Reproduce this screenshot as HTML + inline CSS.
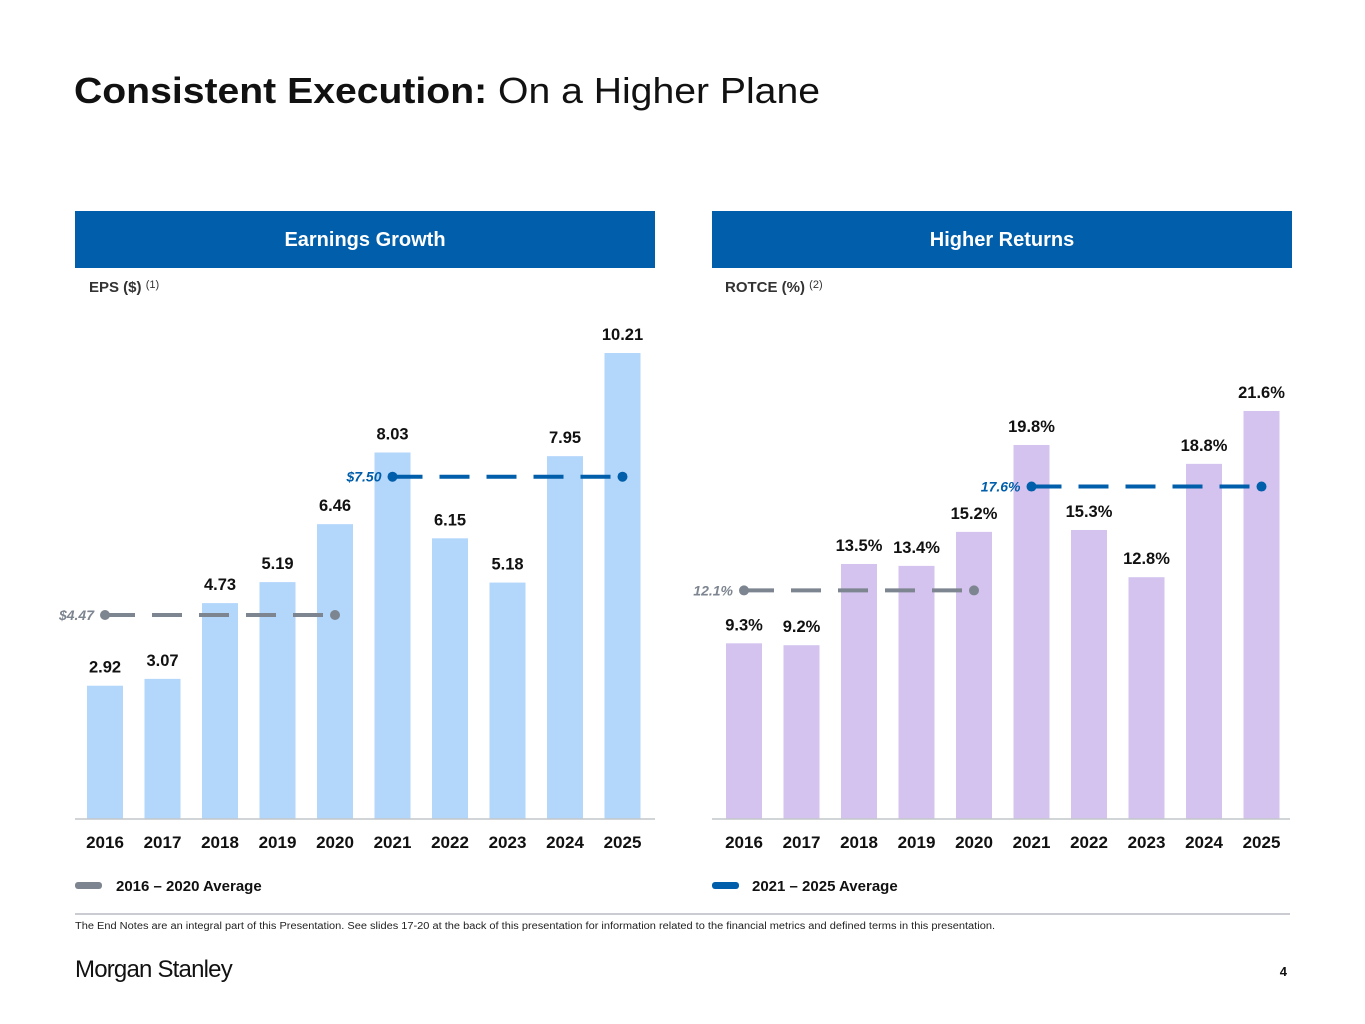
<!DOCTYPE html>
<html><head><meta charset="utf-8"><style>
body{margin:0;background:#fff;font-family:"Liberation Sans",sans-serif;}
#wrap{position:relative;width:1365px;height:1024px;overflow:hidden;}
</style></head><body>
<div id="wrap">
<svg id="svg" width="1365" height="1024" xmlns="http://www.w3.org/2000/svg" font-family="Liberation Sans, sans-serif">
<text x="74" y="103" font-size="36" fill="#111" textLength="746" lengthAdjust="spacingAndGlyphs"><tspan font-weight="bold">Consistent Execution:</tspan> On a Higher Plane</text>
<rect x="75" y="211" width="580" height="57" fill="#005eaa"/>
<text x="365" y="246" font-size="20" font-weight="bold" fill="#fff" text-anchor="middle">Earnings Growth</text>
<rect x="712" y="211" width="580" height="57" fill="#005eaa"/>
<text x="1002" y="246" font-size="20" font-weight="bold" fill="#fff" text-anchor="middle">Higher Returns</text>
<text x="89" y="292" font-size="15" font-weight="bold" fill="#333">EPS ($) <tspan font-size="11" font-weight="normal" dy="-4">(1)</tspan></text>
<text x="725" y="292" font-size="15" font-weight="bold" fill="#333">ROTCE (%) <tspan font-size="11" font-weight="normal" dy="-4">(2)</tspan></text>
<g id="left"></g>
<g id="right"></g>
<rect x="75" y="882" width="27" height="7" rx="3" fill="#7d8590"/>
<text x="116" y="891" font-size="15" font-weight="bold" fill="#111">2016 – 2020 Average</text>
<rect x="712" y="882" width="27" height="7" rx="3" fill="#005eaa"/>
<text x="752" y="891" font-size="15" font-weight="bold" fill="#111">2021 – 2025 Average</text>
<line x1="75" y1="914" x2="1290" y2="914" stroke="#b8bcc4" stroke-width="1.5"/>
<text x="75" y="929" font-size="10" fill="#222" textLength="920" lengthAdjust="spacingAndGlyphs">The End Notes are an integral part of this Presentation. See slides 17-20 at the back of this presentation for information related to the financial metrics and defined terms in this presentation.</text>
<text x="75" y="977" font-size="24" fill="#111" letter-spacing="-0.8">Morgan Stanley</text>
<text x="1287" y="976" font-size="13" font-weight="bold" fill="#111" text-anchor="end">4</text>
</svg>
</div>
<script>
const years = ["2016","2017","2018","2019","2020","2021","2022","2023","2024","2025"];
const epsValues = [2.92,3.07,4.73,5.19,6.46,8.03,6.15,5.18,7.95,10.21];
const epsLabels = ["2.92","3.07","4.73","5.19","6.46","8.03","6.15","5.18","7.95","10.21"];
const epsAvg = [4.47,7.50];
const epsAvgLabels = ["$4.47","$7.50"];
const rotceValues = [9.3,9.2,13.5,13.4,15.2,19.8,15.3,12.8,18.8,21.6];
const rotceLabels = ["9.3%","9.2%","13.5%","13.4%","15.2%","19.8%","15.3%","12.8%","18.8%","21.6%"];
const rotceAvg = [12.1,17.6];
const rotceAvgLabels = ["12.1%","17.6%"];

const NS="http://www.w3.org/2000/svg";
function mk(tag,attrs,parent){const e=document.createElementNS(NS,tag);for(const k in attrs)e.setAttribute(k,attrs[k]);parent.appendChild(e);return e;}
function draw(gid,x0,x1,first,scale,vals,labels,avgs,avgLabels,color,prefix){
  const g=document.getElementById(gid);
  const base=819, step=57.5, bw=36;
  const xc=i=>first+i*step;
  const y=v=>base-v*scale;
  vals.forEach((v,i)=>{
    const r=mk('rect',{x:xc(i)-bw/2,y:y(v),width:bw,height:base-y(v),fill:color},g);
    
    
    const t=mk('text',{x:xc(i),y:y(v)-13,'font-size':16.5,'font-weight':'bold','text-anchor':'middle',fill:'#111'},g);
    t.textContent=labels[i];
    
    
    const yl=mk('text',{x:xc(i),y:848,'font-size':17,'font-weight':'bold','text-anchor':'middle',fill:'#111'},g);
    yl.textContent=years[i];
    
    
  });
  const ax=mk('line',{x1:x0,y1:base,x2:x1,y2:base,stroke:'#c4c7cc','stroke-width':1.5},g);
  
  
  const cols=['#7d8590','#005eaa'];
  avgs.forEach((a,k)=>{
    const xa=xc(k*5), xb=xc(k*5+4), ya=y(a);
    const ln=mk('line',{x1:xa,y1:ya,x2:xb,y2:ya,stroke:cols[k],'stroke-width':4,'stroke-dasharray':'30,17'},g);
    
    
    [xa,xb].forEach(cx=>{
      const c=mk('circle',{cx:cx,cy:ya,r:5,fill:cols[k]},g);
      
      
    });
    const t=mk('text',{x:xa-11,y:ya+5,'font-size':14,'font-weight':'bold','font-style':'italic','text-anchor':'end',fill:cols[k]},g);
    t.textContent=avgLabels[k];
    
    
  });
}
draw('left',75,655,105,45.64,epsValues,epsLabels,epsAvg,epsAvgLabels,'#b3d6fb','eps');
draw('right',712,1290,744,18.89,rotceValues,rotceLabels,rotceAvg,rotceAvgLabels,'#d3c3ee','rotce');
</script>
</body></html>
